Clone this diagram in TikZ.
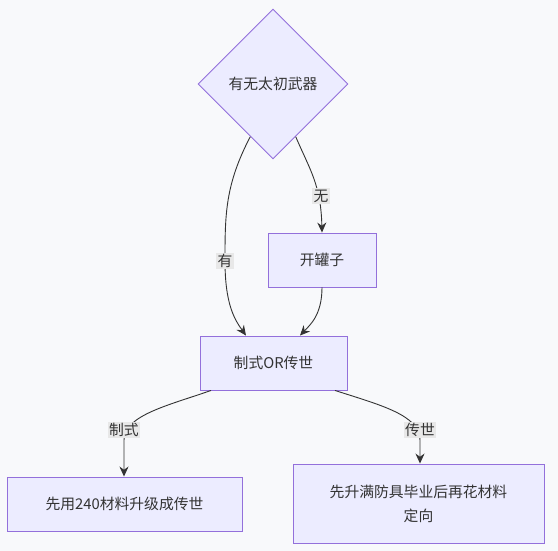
\documentclass[tikz,border=0pt]{standalone}
\usepackage{fontspec}
\setmainfont{Noto Sans CJK SC}
\usetikzlibrary{shapes.geometric,arrows.meta}
\definecolor{nodefill}{HTML}{ECECFF}
\definecolor{nodeline}{HTML}{9370DB}
\definecolor{txt}{HTML}{333333}
\definecolor{bg}{HTML}{F8F9FB}
\definecolor{lblbg}{HTML}{E8E8E8}
\begin{document}
\begin{tikzpicture}[x=1pt,y=-1pt,
  font=\fontsize{14.8}{24}\selectfont, text=txt,
  box/.style={draw=nodeline,fill=nodefill,line width=0.9pt,minimum height=54pt,align=center,inner sep=0pt},
  dec/.style={draw=nodeline,fill=nodefill,line width=0.9pt,diamond,minimum width=150pt,minimum height=150pt,inner sep=0pt,aspect=1},
  lbl/.style={fill=lblbg,inner sep=1.5pt,text=txt},
  edge/.style={draw=txt,line width=0.9pt,-{Stealth[length=10pt,width=9pt]}}]
\fill[bg] (0,0) rectangle (558,551);
\useasboundingbox (0,0) rectangle (558,551);
\node[dec] (d) at (273,84) {有无太初武器};
\node[box,minimum width=108pt] (k) at (322,260) {开罐子};
\node[box,minimum width=147pt] (c) at (273.5,363) {制式OR传世};
\node[box,minimum width=235pt] (a) at (124.5,504) {先用240材料升级成传世};
\node[box,minimum width=251pt,minimum height=79pt] (b) at (418.5,503.5) {先升满防具毕业后再花材料\\定向};
% edges
\draw[edge] (d.south west) ++(15,15) coordinate (d1)
  (d1) .. controls (225,185) and (225,215) .. (225,261)
  .. controls (225,305) and (235,320) .. (c.north west -| 246,0);
\draw[edge] (d.south east) ++(-15,15) coordinate (d2)
  (d2) .. controls (310,170) and (321,185) .. (k.north);
\draw[edge] (k.south) .. controls (322,315) and (310,325) .. (c.north west -| 300,0);
\draw[edge] (c.south west -| 211,0) .. controls (170,405) and (124,415) .. (124,440) -- (a.north -| 124,0);
\draw[edge] (c.south east -| 335,0) .. controls (380,405) and (420,415) .. (420,440) -- (b.north -| 420,0);
% labels
\node[lbl] (l1) at (321,196) {无};
\node[lbl] (l2) at (225,261) {有};
\node[lbl] (l3) at (124,430) {制式};
\node[lbl] (l4) at (420,430) {传世};
\end{tikzpicture}
\end{document}
